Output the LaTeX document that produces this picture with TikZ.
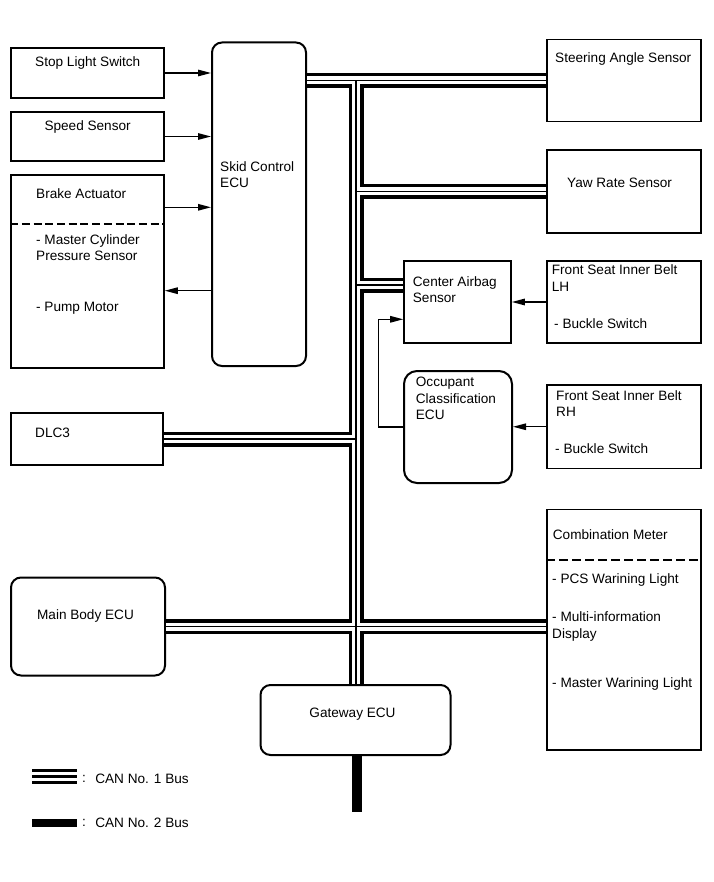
\documentclass[tikz,border=0pt]{standalone}
\usepackage{fontspec}
\setmainfont{Liberation Sans}
\usetikzlibrary{arrows.meta,calc}
\begin{document}
\begin{tikzpicture}[x=1pt,y=-1pt,
 font=\fontsize{13.6}{16.3}\selectfont,
 box/.style={draw, line width=1.6pt, inner sep=0pt},
 rbox/.style={draw, line width=2pt, rounded corners=10pt, inner sep=0pt},
 txt/.style={anchor=base west, inner sep=0pt},
 ctxt/.style={anchor=base, inner sep=0pt},
 arr/.style={line width=1.3pt, -{Triangle[length=13pt,width=6.5pt]}},
 dashline/.style={line width=2pt, dash pattern=on 8pt off 3.7pt},
 canouter/.style={line width=15pt, black},
 caninner/.style={line width=8pt, white},
 cancore/.style={line width=1.5pt, black},
 cantwo/.style={line width=10pt, black}]
\useasboundingbox (0,0) rectangle (713,882);

% ---- boxes
\node[box, minimum width=153pt, minimum height=50pt] (stop) at (87.5,73) {};
\node[box, minimum width=153pt, minimum height=49pt] (speed) at (87.5,136.5) {};
\node[box, minimum width=153pt, minimum height=193pt] (brake) at (87.5,271.5) {};
\node[box, minimum width=152pt, minimum height=52pt] (dlc) at (87,439) {};
\node[rbox, minimum width=154pt, minimum height=98pt] (mainb) at (88,626.5) {};
\node[rbox, minimum width=94pt, minimum height=323.5pt] (skid) at (259,204.25) {};
\node[box, minimum width=154pt, minimum height=82pt] (steer) at (624,80.5) {};
\node[box, minimum width=154pt, minimum height=83pt] (yaw) at (624,191.5) {};
\node[box, minimum width=154pt, minimum height=82pt] (lh) at (624,302) {};
\node[box, minimum width=154pt, minimum height=83.5pt] (rh) at (624,426.75) {};
\node[box, minimum width=154pt, minimum height=240.5pt] (comb) at (624,629.75) {};
\node[box, minimum width=107pt, minimum height=82pt] (cas) at (457.5,302) {};
\node[rbox, rounded corners=13pt, minimum width=108pt, minimum height=112pt] (occ) at (458,427) {};
\node[rbox, minimum width=190pt, minimum height=70pt] (gw) at (355.5,720) {};

% ---- texts
\node[txt] (tstop) at (35,66.8) {Stop Light Switch};
\node[txt] (tspeed) at (44.3,131) {Speed Sensor};
\node[txt] (tbrake) at (36,198.5) {Brake Actuator};
\node[txt] (tbrake2) at (36,244.5) {- Master Cylinder};
\node[txt] (tbrake3) at (36,260.8) {Pressure Sensor};
\node[txt] (tbrake4) at (36,311) {- Pump Motor};
\node[txt] (tskid) at (220,171.5) {Skid Control};
\node[txt] (tskid2) at (220,187.8) {ECU};
\node[txt] (tdlc) at (35,437.5) {DLC3};
\node[ctxt] (tmainb) at (85.5,619.5) {Main Body ECU};
\node[txt] (tsteer) at (555,62.8) {Steering Angle Sensor};
\node[txt] (tyaw) at (567,187.8) {Yaw Rate Sensor};
\node[txt] (tlh) at (551.7,274.5) {Front Seat Inner Belt};
\node[txt] (tlh2) at (551.7,291) {LH};
\node[txt] (tlh3) at (554,328.5) {- Buckle Switch};
\node[txt] (trh) at (556,400) {Front Seat Inner Belt};
\node[txt] (trh2) at (556,416.8) {RH};
\node[txt] (trh3) at (555,453.8) {- Buckle Switch};
\node[txt] (tcomb) at (552.7,539.5) {Combination Meter};
\node[txt] (tcomb2) at (552,583.5) {- PCS Warining Light};
\node[txt] (tcomb3) at (552,621.8) {- Multi-information};
\node[txt] (tcomb4) at (552,638.5) {Display};
\node[txt] (tcomb5) at (552,687.8) {- Master Warining Light};
\node[txt] (tcas) at (412.7,286.2) {Center Airbag};
\node[txt] (tcas2) at (412.7,302.5) {Sensor};
\node[txt] (tocc) at (415.7,386.8) {Occupant};
\node[txt] (tocc2) at (415.7,403.8) {Classification};
\node[txt] (tocc3) at (415.7,419.5) {ECU};
\node[ctxt] (tgw) at (352.5,717.8) {Gateway ECU};

% ---- dashed separators
\coordinate (yd1) at (0,224.3);
\coordinate (yd2) at (0,560);
\draw[dashline] (brake.west |- yd1) -- (brake.east |- yd1);
\draw[dashline, dash pattern=on 9pt off 4pt] (comb.west |- yd2) -- (comb.east |- yd2);

% ---- signal arrows
\coordinate (ya) at (0,207.3);
\coordinate (yb) at (0,290.7);
\coordinate (bend) at (378.3,319.3);
\draw[arr] (stop.east) -- (stop.east -| skid.west);
\draw[arr] (speed.east) -- (speed.east -| skid.west);
\draw[arr] (brake.east |- ya) -- (skid.west |- ya);
\draw[arr] (skid.west |- yb) -- (brake.east |- yb);
\draw[arr] (lh.west) -- (lh.west -| cas.east);
\draw[arr] (rh.west) -- (rh.west -| occ.east);
\draw[arr] (occ.west) -| (bend) -- (cas.west |- bend);

% ---- CAN No. 1 bus (three layers)
\coordinate (vt) at (356,80.5);
\coordinate (jcas) at (356,285);
\draw[canouter] (skid.east |- vt) -- (steer.west |- vt) (vt) -- (vt |- gw.north)
  (vt |- yaw.west) -- (yaw.west) (jcas) -- (cas.west |- jcas)
  (dlc.east) -- (vt |- dlc.east) (mainb.east) -- (comb.west |- mainb.east);
\draw[caninner] (skid.east |- vt) -- (steer.west |- vt) (vt) -- (vt |- gw.north)
  (vt |- yaw.west) -- (yaw.west) (jcas) -- (cas.west |- jcas)
  (dlc.east) -- (vt |- dlc.east) (mainb.east) -- (comb.west |- mainb.east);
\draw[cancore] (skid.east |- vt) -- (steer.west |- vt) (vt) -- (vt |- gw.north)
  (vt |- yaw.west) -- (yaw.west) (jcas) -- (cas.west |- jcas)
  (dlc.east) -- (vt |- dlc.east) (mainb.east) -- (comb.west |- mainb.east);

% ---- CAN No. 2 bus
\coordinate (c2end) at (356.7,812);
\draw[cantwo] (c2end |- gw.south) -- (c2end);

% ---- legend
\draw[line width=3.2pt] (32,770.6) -- (77,770.6);
\draw[line width=3.2pt] (32,776.6) -- (77,776.6);
\draw[line width=3.2pt] (32,782.4) -- (77,782.4);
\fill (32,819) rectangle (77,827);
\node[txt] (lg1) at (81.8,783.5) {\raisebox{1.5pt}{:}\hspace{9.5pt}CAN No. 1 Bus};
\node[txt] (lg2) at (81.8,827.5) {\raisebox{1.5pt}{:}\hspace{9.5pt}CAN No. 2 Bus};
\end{tikzpicture}
\end{document}
